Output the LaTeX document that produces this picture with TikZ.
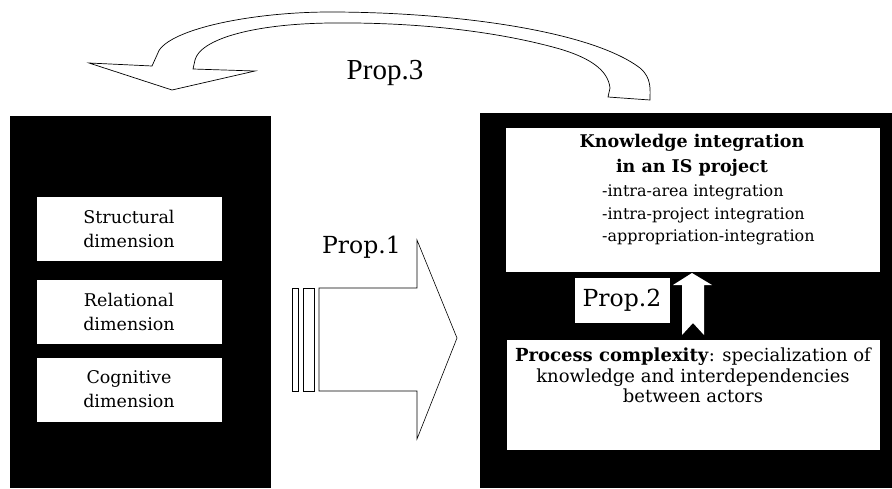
\documentclass[tikz,border=0pt]{standalone}
\usepackage{fontspec}
\setmainfont{DejaVu Serif}
\newfontfamily\timesf{Liberation Serif}
\begin{document}
\begin{tikzpicture}[x=1pt,y=-1pt,
  blackpanel/.style={fill=black,draw=none},
  wbox/.style={fill=white,draw=black,line width=0.5pt,inner sep=0pt},
  dimbox/.style={wbox,minimum width=186pt,minimum height=65pt,align=center,
     font=\fontsize{17.5}{24}\selectfont},
  outl/.style={draw=black,line width=0.6pt,fill=white,line join=miter},
  proptext/.style={inner sep=0pt,font=\fontsize{23.5}{28}\selectfont},
  txt/.style={inner sep=0pt}
]
\useasboundingbox (0,0) rectangle (892,488);

% black panels
\fill[blackpanel] (10,116) rectangle (271,488);
\fill[blackpanel] (480,113) rectangle (892,488);

% left dimension boxes
\node[dimbox] (s) at (129,228.5) {Structural\\dimension};
\node[dimbox] (r) at (129,311.5) {Relational\\dimension};
\node[dimbox] (c) at (129,389.5) {Cognitive\\dimension};

% right boxes
\node[wbox,minimum width=375pt,minimum height=145pt] (ki) at (692.5,199.5) {};
\node[txt,anchor=north,align=center,font=\fontsize{17.5}{25}\selectfont\bfseries] (kit) at (692,133.7)
  {Knowledge integration\\in an IS project};
\node[txt,anchor=north west,align=left,font=\fontsize{16}{22.5}\selectfont] (kil) at (602,185)
  {-intra-area integration\\-intra-project integration\\-appropriation-integration};

\node[wbox,minimum width=374pt,minimum height=111pt] (pc) at (693,394.5) {};
\node[txt,anchor=north,align=center,font=\fontsize{18}{20.5}\selectfont] (pct) at (693,348)
  {\textbf{Process complexity}: specialization of\\knowledge and interdependencies\\between actors};

% Prop.2 box and up arrow
\node[wbox,minimum width=96pt,minimum height=46pt,font=\fontsize{23.5}{28}\selectfont] (p2) at (622,300) {Prop.2};
\fill[white] (692,273) -- (712,285) -- (704,285) -- (704,335) -- (693,323) -- (682,335)
  -- (682,285) -- (673,285) -- cycle;

% Prop.1 arrow
\draw[outl] (292,288) rectangle (298,391);
\draw[outl] (303,288) rectangle (314,391);
\draw[outl] (319,288) -- (417,288) -- (417,240) -- (457,338) -- (417,439) -- (417,391)
  -- (319,391) -- cycle;
\node[proptext,anchor=base] (p1) at (361.5,253) {Prop.1};

% Prop.3 curved arrow
\draw[outl,line width=0.7pt] (157,55) .. controls (163,30) and (250,12) .. (330,12)
  .. controls (450,12) and (590,30) .. (640,68)
  .. controls (652,78) and (650,90) .. (650,100)
  -- (608,97) -- (610,88)
  .. controls (608,70) and (590,58) .. (560,49)
  .. controls (500,32) and (420,22) .. (330,23)
  .. controls (250,24) and (200,40) .. (195,60)
  -- (193,69) -- (255,71) -- (172,90) -- (89,63) -- (152,66) -- cycle;
\node[txt,anchor=base,font=\timesf\fontsize{29}{32}\selectfont] (p3) at (385,79) {Prop.3};
\end{tikzpicture}
\end{document}
